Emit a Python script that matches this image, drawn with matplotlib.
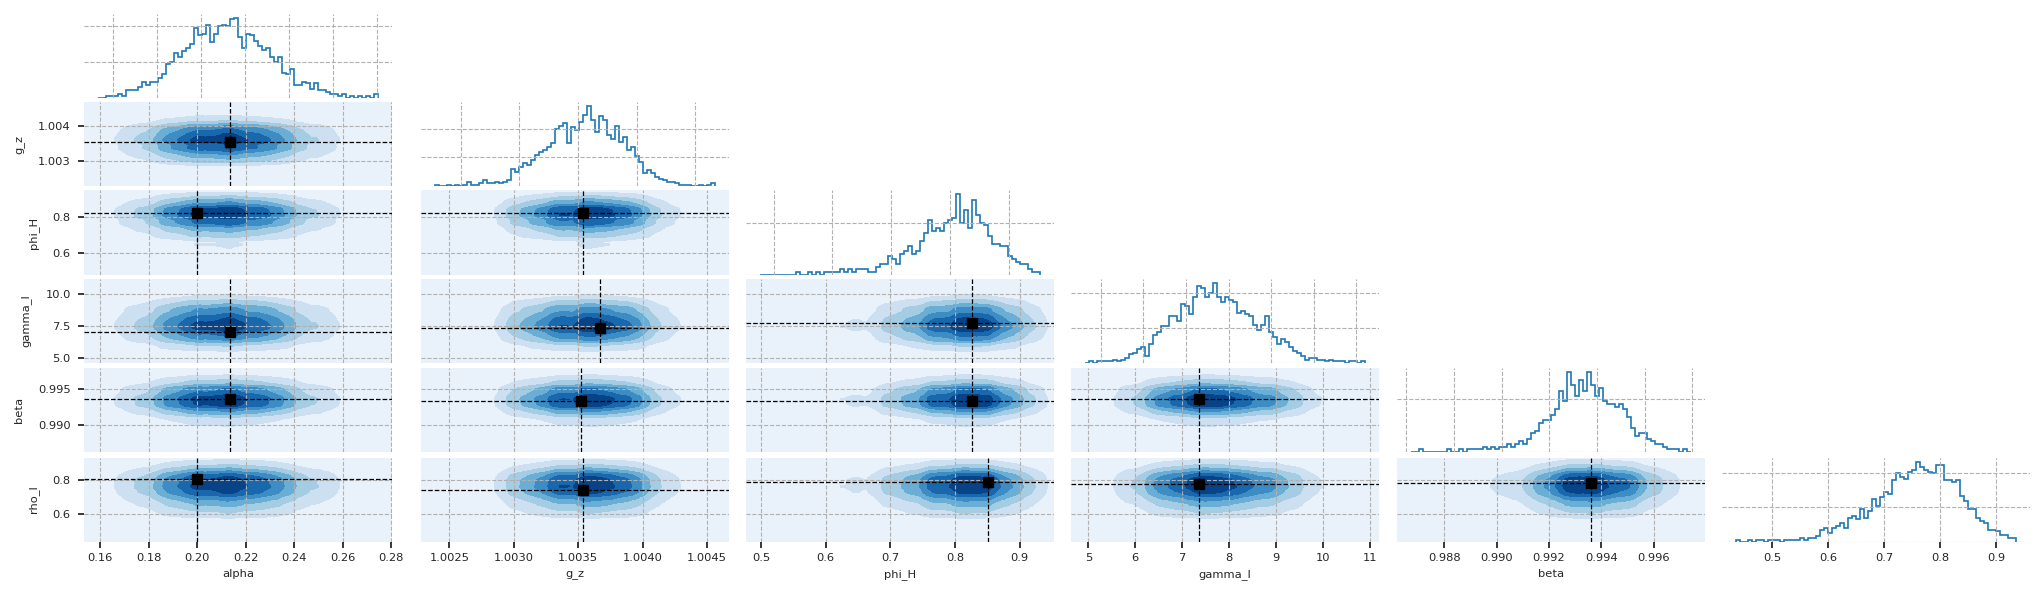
import numpy as np
import matplotlib

matplotlib.use("Agg")
import matplotlib.pyplot as plt
from matplotlib.ticker import MultipleLocator

plt.rcParams["font.family"] = ["DejaVu Sans"]
plt.rcParams["font.size"] = 8.25
plt.rcParams["text.color"] = "#262626"
plt.rcParams["axes.labelcolor"] = "#262626"
plt.rcParams["xtick.color"] = "#262626"
plt.rcParams["ytick.color"] = "#262626"

names = ["alpha", "g_z", "phi_H", "gamma_l", "beta", "rho_l"]
lo = [0.1534, 1.00228, 0.477, 4.63, 0.9862, 0.4355]
hi = [0.2804, 1.00467, 0.953, 11.2, 0.99795, 0.936]

# marginal histogram counts (70 equal bins between lo and hi)
h_alpha = [0, 0, 1, 1, 1, 2, 1, 4, 4, 4, 6, 9, 7, 9, 9, 11, 13, 19, 20, 25,
           23, 26, 28, 30, 39, 35, 36, 41, 31, 36, 40, 41, 40, 44, 45, 34, 28, 36, 35, 32,
           29, 27, 28, 23, 20, 23, 14, 13, 16, 7, 7, 9, 8, 5, 8, 4, 4, 3, 2, 2,
           1, 2, 0, 1, 0, 1, 0, 1, 0, 2]
h_gz = [1, 0, 0, 1, 0, 1, 0, 1, 3, 1, 1, 2, 4, 2, 2, 3, 2, 3, 4, 12,
        10, 13, 16, 15, 18, 22, 24, 25, 27, 30, 40, 42, 44, 30, 41, 39, 45, 50, 56, 46,
        38, 49, 46, 36, 33, 42, 31, 34, 25, 27, 21, 17, 9, 11, 9, 6, 5, 4, 3, 3,
        2, 1, 1, 1, 0, 0, 1, 0, 1, 2]
h_phiH = [0, 0, 0, 0, 0, 0, 0, 0, 0, 1, 0, 0, 1, 0, 1, 0, 1, 1, 1, 1,
          2, 1, 2, 1, 2, 2, 2, 1, 1, 3, 4, 4, 7, 6, 4, 8, 9, 11, 8, 9,
          13, 16, 21, 17, 18, 17, 20, 21, 22, 31, 20, 25, 18, 29, 23, 20, 19, 15, 12, 12,
          11, 11, 7, 6, 5, 4, 4, 2, 1, 1]
h_gammal = [0, 1, 0, 1, 1, 1, 1, 2, 1, 2, 3, 5, 6, 8, 9, 4, 11, 16, 18, 21,
            21, 27, 27, 24, 34, 33, 28, 38, 44, 43, 38, 40, 46, 38, 35, 38, 36, 35, 29, 30,
            28, 27, 22, 19, 22, 27, 18, 15, 11, 14, 12, 9, 7, 6, 4, 2, 3, 3, 2, 2,
            1, 2, 1, 1, 1, 0, 1, 1, 0, 1]
h_beta = [0, 0, 1, 0, 0, 0, 0, 0, 0, 1, 0, 0, 1, 0, 1, 1, 1, 1, 2, 1,
          2, 1, 2, 2, 3, 2, 3, 4, 3, 5, 7, 8, 11, 12, 12, 14, 16, 23, 19, 30,
          25, 21, 27, 23, 30, 25, 21, 24, 19, 18, 18, 17, 18, 16, 13, 9, 6, 7, 7, 5,
          4, 3, 3, 2, 1, 1, 1, 0, 1, 0]
h_rhol = [1, 0, 0, 1, 0, 1, 1, 0, 1, 1, 1, 0, 1, 1, 1, 1, 2, 1, 2, 2,
          3, 7, 8, 5, 8, 9, 11, 8, 14, 15, 13, 19, 14, 18, 25, 21, 26, 29, 28, 36,
          40, 38, 37, 41, 42, 47, 44, 42, 41, 40, 45, 45, 36, 36, 35, 36, 27, 24, 19, 19,
          14, 12, 11, 7, 7, 6, 4, 4, 2, 2]
hists = [h_alpha, h_gz, h_phiH, h_gammal, h_beta, h_rhol]

# point estimate drawn in each lower panel (row = y parameter, col = x parameter)
pair_row = [1, 2, 2, 3, 3, 3, 4, 4, 4, 4, 5, 5, 5, 5, 5]
pair_col = [0, 0, 1, 0, 1, 2, 0, 1, 2, 3, 0, 1, 2, 3, 4]
mark_x = [0.2136, 0.2000, 1.00354, 0.2136, 1.00367, 0.827, 0.2136, 1.00352,
          0.826, 7.37, 0.2000, 1.00354, 0.851, 7.37, 0.99362]
mark_y = [1.00354, 0.828, 0.827, 7.03, 7.38, 7.78, 0.99356, 0.9933,
          0.9933, 0.99360, 0.806, 0.743, 0.790, 0.781, 0.782]

W, H = 2044, 604
col_x = [84, 421, 746, 1071, 1397, 1722]
row_y = [13.5, 102, 190.5, 279, 368, 457.5]
aw, ah = 308, 84

fig = plt.figure(figsize=(W / 100, H / 100), dpi=100)


def add(r, c):
    return fig.add_axes([col_x[c] / W, 1 - (row_y[r] + ah) / H, aw / W, ah / H])


def style(ax, left, bottom):
    for s in ax.spines.values():
        s.set_visible(False)
    ax.grid(True, color="#b0b0b0", ls="--", lw=0.8)
    ax.tick_params(axis="x", bottom=bottom, labelbottom=bottom, length=4.5, width=1.3, pad=4)
    ax.tick_params(axis="y", left=left, labelleft=left, length=4.5, width=1.3, pad=5)
    ax.ticklabel_format(useOffset=False)


kern = np.array([1, 2, 2, 2, 1], float)


def smooth(h):
    return np.convolve(np.asarray(h, float), kern / kern.sum(), mode="same")


n = len(names)
for i in range(n):
    ax = add(i, i)
    counts = np.asarray(hists[i], float)
    edges = np.linspace(lo[i], hi[i], len(counts) + 1)
    ax.stairs(counts, edges, color="#1f77b4", lw=1.2, baseline=0)
    ax.yaxis.set_major_locator(MultipleLocator(20))
    style(ax, False, i == n - 1)

for r, c, mx, my in zip(pair_row, pair_col, mark_x, mark_y):
    ax = add(r, c)
    ex = np.linspace(lo[c], hi[c], len(hists[c]) + 1)
    ey = np.linspace(lo[r], hi[r], len(hists[r]) + 1)
    xc = 0.5 * (ex[1:] + ex[:-1])
    yc = 0.5 * (ey[1:] + ey[:-1])
    # joint density approximated from the two marginals
    Z = np.outer(smooth(hists[r]), smooth(hists[c])) ** 0.7
    cs = ax.contourf(xc, yc, Z, levels=np.linspace(0, Z.max(), 8), cmap="Blues")
    ax.set_facecolor(cs.cmap(cs.norm(cs.layers[0])))
    ax.set_xlim(lo[c], hi[c])
    ax.set_ylim(lo[r], hi[r])
    ax.axvline(mx, color="k", ls="--", lw=0.9)
    ax.axhline(my, color="k", ls="--", lw=0.9)
    ax.plot([mx], [my], "s", color="k", ms=7)
    style(ax, c == 0, r == n - 1)
    if c == 0:
        ax.set_ylabel(names[r], labelpad=10)
    if r == n - 1:
        ax.set_xlabel(names[c])

fig.savefig("out.png", dpi=100)
